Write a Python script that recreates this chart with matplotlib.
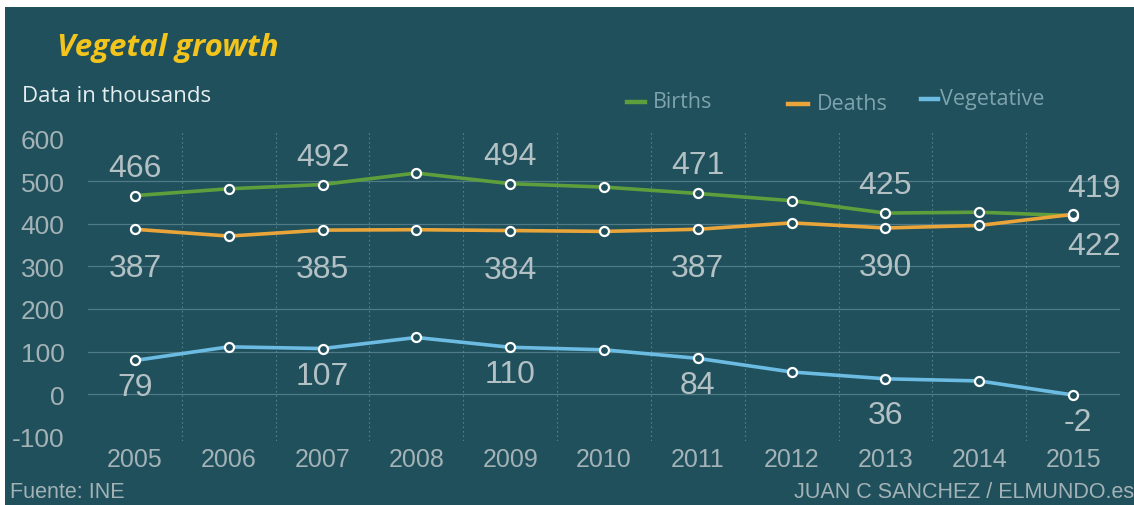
import matplotlib.pyplot as plt
from matplotlib.lines import Line2D
from matplotlib.patches import Rectangle

years = [2005, 2006, 2007, 2008, 2009, 2010, 2011, 2012, 2013, 2014, 2015]
births = [466, 482, 492, 519, 494, 486, 471, 454, 425, 427, 419]
deaths = [387, 371, 385, 386, 384, 382, 387, 402, 390, 396, 422]
vegetative = [79, 111, 107, 133, 110, 104, 84, 52, 36, 31, -2]
y_ticks = [-100, 0, 100, 200, 300, 400, 500, 600]

BG = "#1f505c"
GREEN = "#5e9e3c"
ORANGE = "#e9a53a"
BLUE = "#6cbbe2"
LABEL_GRAY = "#b3c0c4"
TICK_GRAY = "#a3b2b6"

W, H = 1134, 506
fig = plt.figure(figsize=(W / 100, H / 100), dpi=100, facecolor="white")
fig.add_artist(Rectangle((5 / W, 0), 1 - 5 / W, 1 - 8 / H, transform=fig.transFigure,
                         facecolor=BG, edgecolor="none", zorder=-10))


def fx(px):
    return px / W


def fy(py):
    return 1 - py / H


ax = fig.add_axes([fx(88), fy(442), fx(1120) - fx(88), fy(131) - fy(442)])
ax.set_facecolor("none")
ax.set_xlim(2004.5, 2015.5)
ax.set_ylim(-110, 620)
for s in ax.spines.values():
    s.set_visible(False)

# grid: solid horizontals inside the range, dotted verticals between years
for v in y_ticks[1:-1]:
    ax.axhline(v, color="#5d8590", lw=0.9, alpha=0.8, zorder=1)
for x in years[:-1]:
    ax.axvline(x + 0.5, color="#7f9fa7", lw=0.8, ls=(0, (1.5, 2.5)), alpha=0.6, zorder=1)

ax.set_yticks(y_ticks)
ax.set_yticklabels([str(v) for v in y_ticks], fontsize=19, color=TICK_GRAY,
                   family="Liberation Sans")
ax.set_xticks(years)
ax.set_xticklabels([str(y) for y in years], fontsize=18, color=TICK_GRAY,
                   family="Liberation Sans")
ax.tick_params(axis="y", length=0, pad=17)
ax.tick_params(axis="x", length=0, pad=4)

series = [(births, GREEN), (deaths, ORANGE), (vegetative, BLUE)]
for vals, col in series:
    ax.plot(years, vals, color=col, lw=2.6, zorder=3, solid_joinstyle="round")
    ax.plot(years, vals, ls="none", marker="o", ms=6.5, mfc=BG, mec="white",
            mew=1.6, zorder=4)

PT = 0.72  # points per pixel at 100 dpi
lab_kw = dict(textcoords="offset points", ha="center", va="center",
              fontsize=23, color=LABEL_GRAY, family="Liberation Sans", zorder=5)
for i, yr in enumerate(years):
    if i % 2:
        continue
    dx = 21 * PT if yr == years[-1] else 0
    ax.annotate(str(births[i]), (yr, births[i]), xytext=(dx, 28 * PT), **lab_kw)
    ax.annotate(str(deaths[i]), (yr, deaths[i]),
                xytext=(dx, -(32 if yr == years[-1] else 39) * PT), **lab_kw)
    ax.annotate(str(vegetative[i]), (yr, vegetative[i]),
                xytext=(5 * PT if yr == years[-1] else 0, -(36 if yr == 2013 else 27) * PT),
                **lab_kw)

fig.text(fx(57), fy(48), "Vegetal growth", fontsize=22.5, fontweight="bold",
         fontstyle="italic", color="#f2c41c", family="Open Sans", va="center")
fig.text(fx(22), fy(96), "Data in thousands", fontsize=16, color="#e6eef0",
         family="Open Sans", va="center")

legend_items = [("Births", GREEN, 627, 645, 653, 103),
                ("Deaths", ORANGE, 788, 808, 817, 105),
                ("Vegetative", BLUE, 921, 938, 940, 100)]
for name, col, x0, x1, xt, yc in legend_items:
    fig.add_artist(Line2D([fx(x0), fx(x1)], [fy(yc), fy(yc)], transform=fig.transFigure,
                          color=col, lw=3.2))
    fig.text(fx(xt), fy(yc), name, fontsize=15.5, color="#7fa3ac",
             family="Open Sans", va="center")

fig.text(fx(10), fy(493), "Fuente: INE", fontsize=15.5, color=TICK_GRAY,
         family="Liberation Sans", va="center")
fig.text(fx(1134), fy(493), "JUAN C SANCHEZ / ELMUNDO.es", fontsize=15.5,
         color=TICK_GRAY, family="Liberation Sans", va="center", ha="right")

fig.savefig("out.png", dpi=100, facecolor="white")
